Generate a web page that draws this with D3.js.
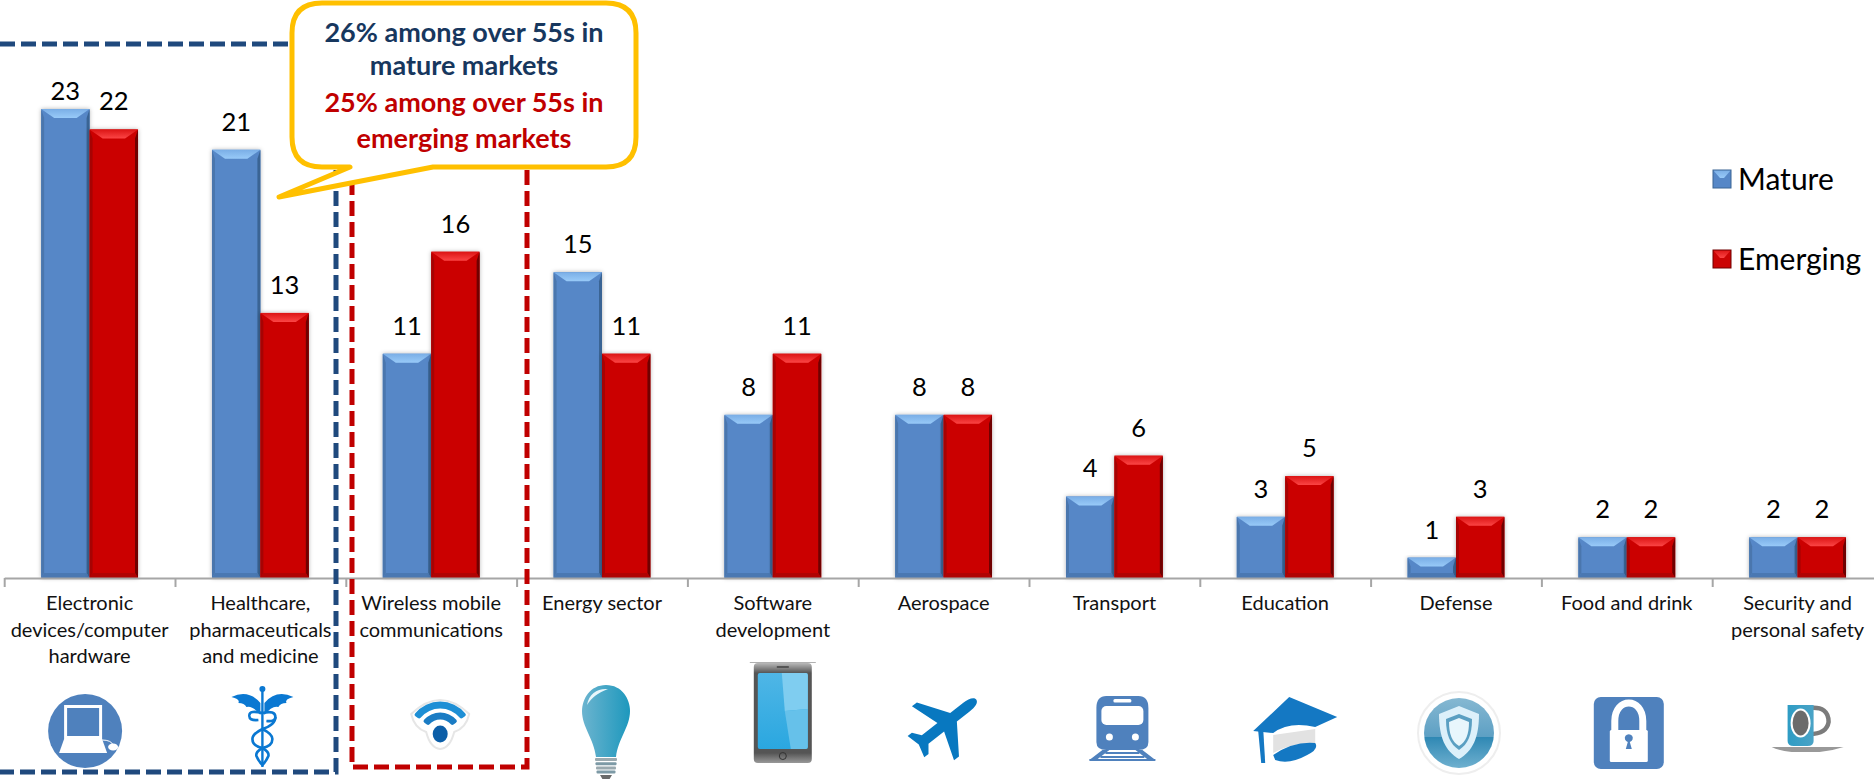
<!DOCTYPE html>
<html>
<head>
<meta charset="utf-8">
<script src="https://cdn.jsdelivr.net/npm/d3@7/dist/d3.min.js"></script>
<style>
html,body{margin:0;padding:0;background:#fff;overflow:hidden}
svg{display:block}
text{font-family:Lato,"Open Sans",sans-serif}
</style>
</head>
<body>
<svg id="chart" width="1874" height="779"></svg>
<script>
// Share of respondents per sector, by market type
const categories = [
  ["Electronic","devices/computer","hardware"],
  ["Healthcare,","pharmaceuticals","and medicine"],
  ["Wireless mobile","communications"],
  ["Energy sector"],
  ["Software","development"],
  ["Aerospace"],
  ["Transport"],
  ["Education"],
  ["Defense"],
  ["Food and drink"],
  ["Security and","personal safety"]
];
const mature   = [23,21,11,15,8,8,4,3,1,2,2];
const emerging = [22,13,16,11,11,8,6,5,3,2,2];
const seriesNames = ["Mature","Emerging"];
const calloutLines = [
  ["26% among over 55s in","#17375e"],
  ["mature markets","#17375e"],
  ["25% among over 55s in","#c00000"],
  ["emerging markets","#c00000"]
];
const iconNames = ["laptop","caduceus","wifi","bulb","phone","plane","train","cap","shield","lock","cup"];

const svg = d3.select("#chart");
const defs = svg.append("defs");

const baseY = 578;
const x = d3.scaleBand().domain(d3.range(categories.length)).range([4.2,1883]);
const inner = d3.scaleBand().domain(seriesNames).range([x.bandwidth()*0.2165,x.bandwidth()*0.7835]);
const y = d3.scaleLinear().domain([0,23]).range([baseY,109]);

// Bevel palettes per series
const palette = {
  Mature:  {body:"#5687c7",top0:"#7aaee6",top1:"#98caf8",left:"#4a76ad",right:"#3a6494",bottom:"#4a78b2"},
  Emerging:{body:"#cb0404",top0:"#dc1414",top1:"#fb4545",left:"#a60303",right:"#700000",bottom:"#b00303"}
};
seriesNames.forEach(n=>{
  const g = defs.append("linearGradient").attr("id","top"+n).attr("x1",0).attr("x2",0).attr("y1",0).attr("y2",1);
  g.append("stop").attr("offset",0).attr("stop-color",palette[n].top0);
  g.append("stop").attr("offset",1).attr("stop-color",palette[n].top1);
});
const shadow = defs.append("filter").attr("id","barShadow").attr("x","-20%").attr("y","-10%").attr("width","140%").attr("height","120%");
shadow.append("feDropShadow").attr("dx",0).attr("dy",0).attr("stdDeviation",2).attr("flood-color","#000").attr("flood-opacity",0.3);

// Bars with a small bevel on each edge
function bevelBar(g, name, value, i){
  const p = palette[name];
  const x0 = x(i)+inner(name), w = inner.bandwidth();
  const t = y(value), b = y(0), h = b-t;
  const inset = 13, topH = 9, side = 3, foot = Math.min(5,h/4);
  const bar = g.append("g");
  bar.append("rect").attr("x",x0).attr("y",t).attr("width",w).attr("height",h).attr("fill",p.body).attr("filter","url(#barShadow)");
  const poly = (pts,fill)=>bar.append("polygon").attr("points",pts.map(q=>q.join(",")).join(" ")).attr("fill",fill);
  poly([[x0,t],[x0+side,t+topH],[x0+side,b-foot],[x0,b]],p.left);
  poly([[x0+w,t],[x0+w-side,t+topH],[x0+w-side,b-foot],[x0+w,b]],p.right);
  poly([[x0,b],[x0+side,b-foot],[x0+w-side,b-foot],[x0+w,b]],p.bottom);
  poly([[x0,t],[x0+w,t],[x0+w-inset,t+topH],[x0+inset,t+topH]],`url(#top${name})`);
}
const plot = svg.append("g");
[[ "Mature",mature],["Emerging",emerging]].forEach(([name,vals])=>{
  vals.forEach((v,i)=>bevelBar(plot,name,v,i));
});

// Category axis: ticks fall on the boundaries between groups
const boundary = d3.scaleLinear().domain([0,categories.length]).range([4.2,1883]);
const axis = svg.append("g").attr("transform",`translate(0,${baseY})`)
  .call(d3.axisBottom(boundary).ticks(categories.length).tickFormat("").tickSize(9).tickSizeOuter(0));
axis.selectAll("path,line").attr("stroke","#a6a6a6").attr("stroke-width",2);

// Value labels
const labelLayer = svg.append("g").attr("font-size",25.5).attr("fill","#000").attr("text-anchor","middle");
[["Mature",mature],["Emerging",emerging]].forEach(([name,vals])=>{
  labelLayer.selectAll(null).data(vals).join("text")
    .attr("x",(d,i)=>x(i)+inner(name)+inner.bandwidth()/2)
    .attr("y",d=>Math.max(y(d)-28,91))
    .attr("dy",".35em").text(d=>d);
});

// Category labels
const catLayer = svg.append("g").attr("font-size",20).attr("fill","#111").attr("text-anchor","middle");
categories.forEach((lines,i)=>{
  lines.forEach((line,k)=>{
    catLayer.append("text").attr("x",x(i)+x.bandwidth()/2).attr("y",603+k*26.5).attr("dy",".35em").text(line);
  });
});

// Dashed highlight frames
const frames = svg.append("g").attr("fill","none").attr("stroke-width",5).attr("stroke-dasharray","15 6");
frames.append("path").attr("d","M0,44H336V772H0").attr("stroke","#1f497d");
frames.append("path").attr("d","M527,44V767H352V44").attr("stroke","#c00000");

// Callout
const callout = svg.append("g");
callout.append("path")
  .attr("d","M322,3H606Q636,3 636,33V137Q636,167 606,167H433L279,197L350,167H322Q292,167 292,137V33Q292,3 322,3Z")
  .attr("fill","#fff").attr("stroke","#ffc000").attr("stroke-width",5).attr("stroke-linejoin","round");
callout.selectAll("text").data(calloutLines).join("text")
  .attr("x",464).attr("y",(d,i)=>[33,66,103,139][i]).attr("dy",".35em")
  .attr("text-anchor","middle").attr("font-size",27).attr("font-weight",700)
  .attr("fill",d=>d[1]).text(d=>d[0]);

// Legend
const legend = svg.append("g");
seriesNames.forEach((n,i)=>{
  const top = 170+i*80, s = 18, p = palette[n];
  const g = legend.append("g").attr("transform",`translate(1713,${top})`);
  g.append("rect").attr("width",s).attr("height",s).attr("fill",p.body);
  g.append("polygon").attr("points",`0,0 ${s},0 ${s-7},8 7,8`).attr("fill",`url(#top${n})`);
  g.append("rect").attr("width",s).attr("height",s).attr("fill","none").attr("stroke",p.right).attr("stroke-width",1);
  legend.append("text").attr("x",1738).attr("y",top+9).attr("dy",".35em").attr("font-size",30).attr("fill","#000").text(n);
});

// Sector pictograms, each drawn around its own origin
const grad = (id,stops,vertical=true)=>{
  const g = defs.append("linearGradient").attr("id",id).attr("x1",0).attr("y1",0).attr("x2",vertical?0:1).attr("y2",vertical?1:0);
  stops.forEach(([o,c])=>g.append("stop").attr("offset",o).attr("stop-color",c));
};
grad("bulbFill",[[0,"#6cb4cf"],[1,"#1d98bd"]],false);
grad("phoneBody",[[0,"#b9b9b9"],[0.1,"#555"],[0.9,"#555"],[1,"#999"]]);
grad("phoneScreen",[[0,"#4fb6e6"],[1,"#2aa7e0"]]);
grad("shieldFill",[[0,"#85b8d2"],[0.55,"#5ea0c4"],[0.56,"#2f88b4"],[1,"#6fb0cf"]]);
grad("cupFill",[[0,"#2e9cc4"],[1,"#4aa3c6"]],false);

const icons = {
  laptop(g){
    g.append("ellipse").attr("rx",37).attr("ry",37).attr("fill","#4f81bd");
    g.append("rect").attr("x",-21).attr("y",-26).attr("width",38).attr("height",34).attr("fill","#fff");
    g.append("rect").attr("x",-18).attr("y",-23).attr("width",32).attr("height",28).attr("fill","#4f81bd");
    g.append("path").attr("d","M-21,8H17L22,22H-26Z").attr("fill","#fff");
    g.append("path").attr("d","M17,9Q26,9 28,14").attr("fill","none").attr("stroke","#fff").attr("stroke-width",1);
    g.append("ellipse").attr("cx",28).attr("cy",16).attr("rx",5).attr("ry",3.5).attr("fill","#fff");
  },
  caduceus(g){
    const c = "#0a78d2";
    g.append("rect").attr("x",-1.2).attr("y",-34).attr("width",2.4).attr("height",78).attr("fill",c);
    g.append("circle").attr("cy",-34).attr("r",3).attr("fill",c);
    g.append("path").attr("d","M-2,-20Q-14,-34 -31,-26Q-22,-24 -24,-20Q-18,-20 -16,-16Q-10,-18 -2,-8Z").attr("fill",c);
    g.append("path").attr("d","M2,-20Q14,-34 31,-26Q22,-24 24,-20Q18,-20 16,-16Q10,-18 2,-8Z").attr("fill",c);
    g.append("path").attr("d","M-13,-8Q-13,-13 0,-10Q13,-13 13,-6Q13,2 0,6Q-10,11 -10,16Q-10,23 0,25Q7,29 6,33Q4,38 0,42")
      .attr("fill","none").attr("stroke",c).attr("stroke-width",2.6);
    g.append("path").attr("d","M-13,-8Q-14,-2 -4,-3M13,-6Q13,-1 4,-2M0,6Q10,11 10,16Q10,23 0,25Q-7,29 -6,33Q-4,38 0,42")
      .attr("fill","none").attr("stroke",c).attr("stroke-width",2.6);
  },
  wifi(g){
    g.append("path").attr("d","M-29,-8Q0,-36 29,-8Q26,6 14,10Q10,26 0,27Q-10,26 -14,10Q-26,6 -29,-8Z")
      .attr("fill","#fff").attr("stroke","#e6e6e6").attr("stroke-width",2);
    const arc = d3.arc().startAngle(-0.95).endAngle(0.95).cornerRadius(2);
    [[29,7,"#1e8fd5"],[18,7,"#1a7cc4"]].forEach(([r,w,c])=>{
      g.append("path").attr("transform","translate(0,12)")
        .attr("d",arc.innerRadius(r-w/2).outerRadius(r+w/2)()).attr("fill",c);
    });
    g.append("ellipse").attr("cy",12).attr("rx",7.5).attr("ry",8.5).attr("fill","#0b5ea8");
  },
  bulb(g){
    g.append("path").attr("d","M0,-50C16,-50 24,-36 24,-24C24,-8 12,4 10,22H-10C-12,4 -24,-8 -24,-24C-24,-36 -16,-50 0,-50Z").attr("fill","url(#bulbFill)");
    g.append("path").attr("d","M-19,-30C-17,-42 -8,-47 2,-46C-8,-42 -14,-38 -19,-30Z").attr("fill","#e8f6fb");
    d3.range(4).forEach(k=>g.append("rect").attr("x",-11+k*0.5).attr("y",23+k*4.2).attr("width",22-k).attr("height",3).attr("rx",1).attr("fill",k%2?"#7d9aa6":"#9aa9af"));
    g.append("path").attr("d","M-6,40H6L3,45H-3Z").attr("fill","#6a6a6a");
  },
  phone(g){
    g.append("rect").attr("x",-33).attr("y",-51).attr("width",66).attr("height",1).attr("fill","#b0b0b0");
    g.append("rect").attr("x",-29).attr("y",-50).attr("width",58).attr("height",100).attr("rx",4).attr("fill","url(#phoneBody)");
    g.append("rect").attr("x",-25).attr("y",-40).attr("width",50).attr("height",76).attr("rx",2).attr("fill","url(#phoneScreen)");
    g.append("path").attr("d","M-1,-40H23Q25,-40 25,-38V-4L2,-2Z").attr("fill","#7fcdf0");
    g.append("path").attr("d","M2,-2L25,-4V34Q25,36 23,36H8Z").attr("fill","#66c1ea");
    g.append("circle").attr("cy",43).attr("r",3.5).attr("fill","none").attr("stroke","#333");
    g.append("rect").attr("x",-6).attr("y",-47).attr("width",12).attr("height",2).attr("fill","#555");
  },
  plane(g){
    // Body points up and to the right, then the group is rotated into place
    const c = "#0878c0";
    g.append("path").attr("transform","rotate(52) scale(0.9)")
      .attr("d","M0,-46C4,-46 6,-40 6,-32V-14L38,8V15L6,4V26L15,33V39L0,35L-15,39V33L-6,26V4L-38,15V8L-6,-14V-32C-6,-40 -4,-46 0,-46Z")
      .attr("fill",c);
  },
  train(g){
    const c = "#4f81bd";
    g.append("path").attr("d","M-16,-32H16Q26,-32 26,-20V14Q26,22 16,22H-16Q-26,22 -26,14V-20Q-26,-32 -16,-32Z").attr("fill",c);
    g.append("rect").attr("x",-21).attr("y",-22).attr("width",42).attr("height",19).attr("rx",5).attr("fill","#fff");
    g.append("rect").attr("x",-9).attr("y",-29).attr("width",18).attr("height",3.5).attr("rx",1.5).attr("fill","#fff");
    g.append("circle").attr("cx",-13).attr("cy",9).attr("r",3.5).attr("fill","#fff");
    g.append("circle").attr("cx",13).attr("cy",9).attr("r",3.5).attr("fill","#fff");
    g.append("path").attr("d","M-20,22H-13L-26,32H-33ZM20,22H13L26,32H33Z").attr("fill",c);
    g.append("path").attr("d","M-17,24H17V26H-17ZM-22,28H22V30H-22Z").attr("fill",c);
    g.append("path").attr("d","M-33,31H33V33H-33Z").attr("fill",c);
  },
  cap(g){
    const c = "#1478c3";
    g.append("path").attr("d","M-22,2L-22,20Q0,8 20,12L20,-4Z").attr("fill","#e2e2e2");
    g.append("path").attr("d","M-42,-2L-6,-36L42,-16L20,-6Q-6,-12 -22,0Z").attr("fill",c);
    g.append("path").attr("d","M-22,22Q-2,8 20,10Q24,16 12,22Q-6,32 -20,27Z").attr("fill",c);
    g.append("path").attr("d","M-37,-2L-34,30H-30L-32,-4Z").attr("fill",c);
  },
  shield(g){
    g.append("circle").attr("r",41).attr("fill","#fff").attr("stroke","#eeeeee").attr("stroke-width",2);
    g.append("ellipse").attr("rx",35).attr("ry",35).attr("fill","url(#shieldFill)");
    g.append("path").attr("d","M0,-27L20,-19C20,4 14,18 0,26C-14,18 -20,4 -20,-19Z").attr("fill","#dcf0fa");
    g.append("path").attr("d","M0,-19L13,-14C13,2 9,11 0,17C-9,11 -13,2 -13,-14Z").attr("fill","#5a9fc2");
    g.append("path").attr("d","M0,-15L10,-11C10,1 7,9 0,13C-7,9 -10,1 -10,-11Z").attr("fill","#e8f6fc");
  },
  lock(g){
    g.append("rect").attr("x",-35).attr("y",-36).attr("width",70).attr("height",72).attr("rx",7).attr("fill","#4f81bd");
    g.append("path").attr("d","M-14,-2V-12C-14,-36 14,-36 14,-12V-2").attr("fill","none").attr("stroke","#fff").attr("stroke-width",7);
    g.append("rect").attr("x",-19).attr("y",-3).attr("width",38).attr("height",32).attr("rx",1.5).attr("fill","#fff");
    g.append("path").attr("d","M-3,16L-1,9A4,4 0 1 1 1,9L3,16Z").attr("fill","#4f81bd");
  },
  cup(g){
    g.append("path").attr("d","M-2,-18Q17,-20 17,-4Q15,8 -2,8").attr("fill","none").attr("stroke","#7b7b7b").attr("stroke-width",4.5);
    g.append("path").attr("d","M-24,-21H2V15Q2,20 -4,20H-18Q-24,20 -24,15Z").attr("fill","url(#cupFill)");
    g.append("ellipse").attr("cx",-11).attr("cy",-3).attr("rx",10).attr("ry",14.5).attr("fill","#fff");
    g.append("ellipse").attr("cx",-11).attr("cy",-3).attr("rx",8).attr("ry",12.5).attr("fill","#6b6b6b");
    g.append("path").attr("d","M-40,21H32Q20,25 8,26H-20Q-32,25 -40,21Z").attr("fill","#999");
  }
};
// Small per-icon shifts from the centre of each group, plus a shared row height
const iconDx = [-4.5,2,9,4,10,0,8,10,3,2,14];
const iconY  = [731,723,722,735,713,725,728,733,733,733,726];
iconNames.forEach((name,i)=>{
  const g = svg.append("g").attr("transform",`translate(${x(i)+x.bandwidth()/2+iconDx[i]},${iconY[i]})`);
  icons[name](g);
});
</script>
</body>
</html>
